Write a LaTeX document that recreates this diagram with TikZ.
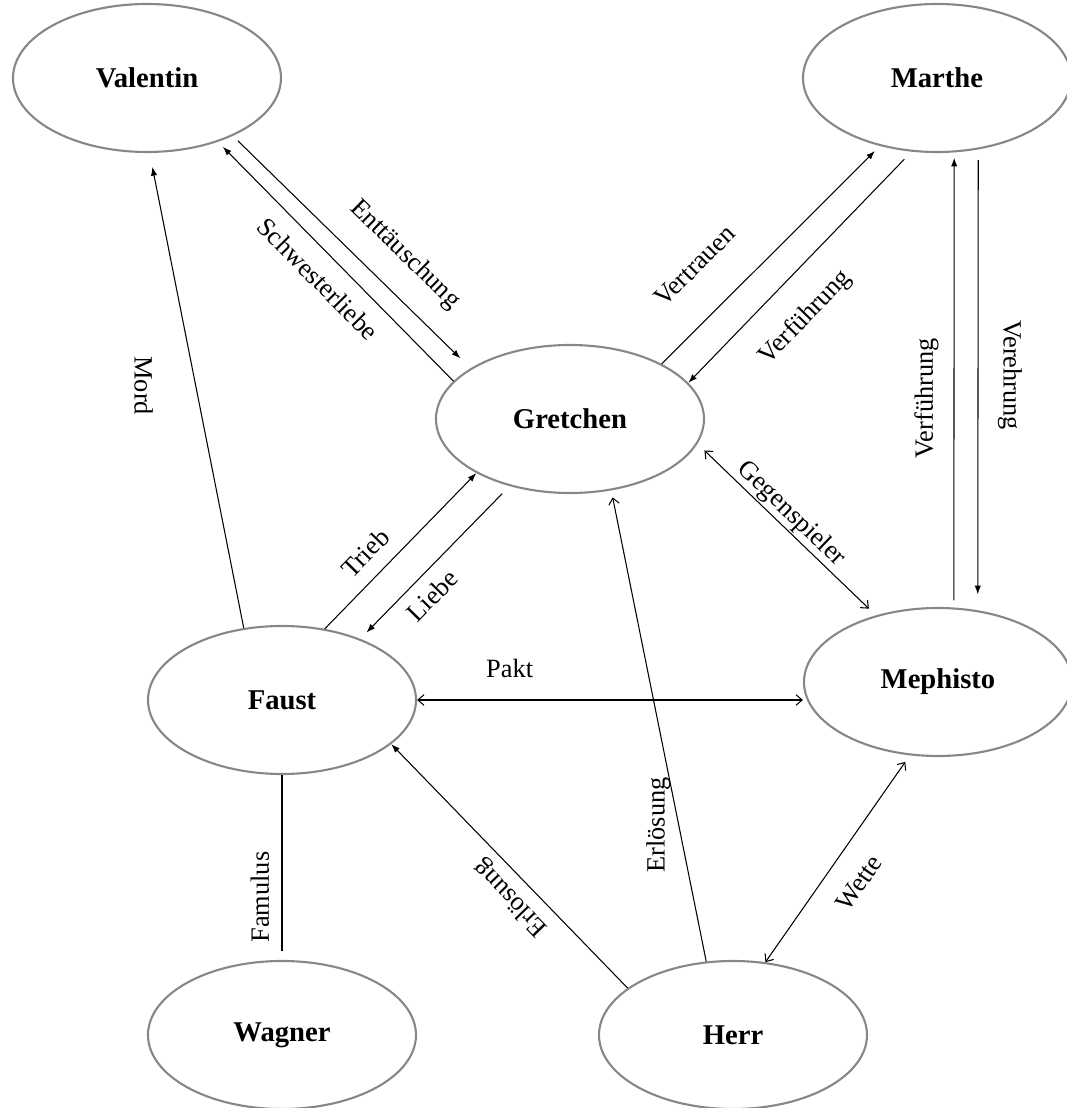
\documentclass[tikz,border=0pt]{standalone}
\usepackage{fontspec}
\setmainfont{Liberation Serif}
\usetikzlibrary{shapes.geometric,arrows.meta}
\definecolor{ringgray}{RGB}{135,135,135}

\begin{document}
\begin{tikzpicture}[
        person/.style={ellipse,draw=ringgray,line width=1.2pt,inner sep=0pt,
                minimum width=5.36cm,minimum height=2.96cm,
                font=\fontsize{16.3}{19}\selectfont\bfseries},
        rel/.style={line width=0.6pt,-{Latex[length=5pt,width=3.6pt]}},
        hint/.style={line width=0.6pt,-{Straight Barb[length=3.5pt,width=6pt]}},
        mutual/.style={line width=0.6pt,
                {Straight Barb[length=3.5pt,width=6pt]}-{Straight Barb[length=3.5pt,width=6pt]}},
        tie/.style={line width=0.6pt},
        tag/.style={font=\fontsize{15}{18}\selectfont}]
        \useasboundingbox (0,0) rectangle (21.34,22.16);

        \draw (2.94,20.60) node[person] (Valentin) {Valentin};
        \draw (18.74,20.60) node[person] (Marthe) {Marthe};
        \draw (11.40,13.78) node[person] (Gretchen) {Gretchen};
        \draw (5.64,8.16) node[person] (Faust) {Faust};
        \draw (18.76,8.52) node[person] (Mephisto) {Mephisto};
        \draw (5.64,1.46) node[person] (Wagner) {Wagner};
        \draw (14.66,1.46) node[person] (Herr) {Herr};

        \draw[rel,shorten <=4pt,shorten >=8pt] (Valentin.-34)--(Gretchen.153)
        node[tag,sloped,above,pos=.62,inner sep=13pt] {Enttäuschung};
        \draw[rel,shorten >=4pt] (Gretchen.162)--(Valentin.-42)
        node[tag,sloped,below,pos=.5,inner sep=8.5pt] {Schwesterliebe};

        \draw[rel,shorten >=4pt] (Gretchen.31)--(Marthe.230)
        node[tag,sloped,above,pos=.3,inner sep=21pt] {Vertrauen};
        \draw[rel,shorten <=6pt] (Marthe.251)--(Gretchen.17)
        node[tag,sloped,below,pos=.6,inner sep=15pt] {Verführung};

        \draw[rel,shorten <=4pt,shorten >=3pt] (Mephisto.78)--(Marthe.-77)
        node[tag,rotate=90,above,pos=.46,inner sep=8.5pt] {Verführung};
        \draw[rel,shorten <=6pt,shorten >=9pt] (Marthe.-60.5)--(Mephisto.61)
        node[tag,rotate=-90,above,pos=.49,inner sep=11pt] {Verehrung};

        \draw[mutual,shorten <=5.5pt,shorten >=5.5pt] (Gretchen.-11)--(Mephisto.133.8)
        node[tag,sloped,above,pos=.47,inner sep=1pt] {Gegenspieler};

        \draw[rel] (Faust.59.3)--(Gretchen.210.7)
        node[tag,sloped,above,pos=.38,inner sep=8pt] {Trieb};
        \draw[rel,shorten <=6pt,shorten >=5pt] (Gretchen.228.6)--(Faust.38.2)
        node[tag,sloped,below,pos=.62,inner sep=6.5pt] {Liebe};

        \draw[rel,shorten >=8pt] (Faust.118.3)--(Valentin.-88)
        node[tag,rotate=-90,below,pos=.51,inner sep=24pt] {Mord};

        \draw[mutual] (Faust.east)--(Faust.east -| Mephisto.west)
        node[tag,above,pos=.24,inner sep=12.5pt] {Pakt};

        \draw[tie,shorten >=5pt] (Faust.south)--(Wagner.north)
        node[tag,rotate=90,above,pos=.66,inner sep=7pt] {Famulus};

        \draw[rel] (Herr.156)--(Faust.-22.7)
        node[tag,sloped,allow upside down,above,pos=.43,inner sep=4.5pt] {Erlösung};
        \draw[hint,shorten >=4pt] (Herr.110.4)--(Gretchen.-60.6)
        node[tag,rotate=90,above,pos=.29,inner sep=4.5pt] {Erlösung};

        \draw[mutual,shorten >=4.5pt] (Herr.66.5)--(Mephisto.249.7)
        node[tag,sloped,below,pos=.47,inner sep=12.5pt] {Wette};
\end{tikzpicture}
\end{document}
